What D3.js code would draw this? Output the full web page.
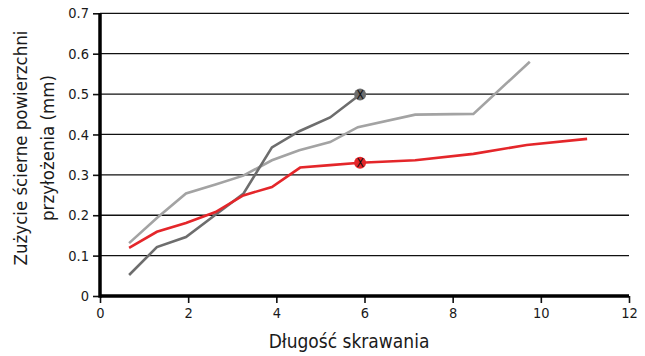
<!DOCTYPE html>
<html>
<head>
<meta charset="utf-8">
<script src="https://cdn.jsdelivr.net/npm/d3@7"></script>
<style>
  html, body { margin: 0; padding: 0; background: #fff; }
  svg { display: block; }
  text { font-family: "DejaVu Sans Condensed", "DejaVu Sans", sans-serif; fill: #1a1a1a; }
</style>
</head>
<body>
<svg id="chart" width="645" height="356"></svg>
<script>
// Cutting length (x) for each measurement series
const darkX  = [0.66, 1.29, 1.95, 2.62, 3.25, 3.9, 4.52, 5.22, 5.9];
const darkY  = [0.052, 0.121, 0.146, 0.201, 0.253, 0.368, 0.408, 0.442, 0.499];

const lightX = [0.66, 1.29, 1.95, 2.62, 3.25, 3.9, 4.52, 5.22, 5.85, 7.15, 8.47, 9.75];
const lightY = [0.131, 0.193, 0.254, 0.276, 0.298, 0.336, 0.361, 0.381, 0.418, 0.449, 0.451, 0.58];

const redX   = [0.66, 1.29, 1.95, 2.62, 3.25, 3.9, 4.54, 5.22, 5.9, 7.15, 8.47, 9.68, 11.05];
const redY   = [0.119, 0.159, 0.181, 0.208, 0.249, 0.27, 0.318, 0.324, 0.33, 0.336, 0.352, 0.374, 0.389];

// Highlighted end-of-life points, marked with an X
const markX = [5.9, 5.9];
const markY = [0.499, 0.33];

const xTicks = [0, 2, 4, 6, 8, 10, 12];
const yTicks = [0, 0.1, 0.2, 0.3, 0.4, 0.5, 0.6, 0.7];

const colors = { dark: "#6d6d6d", light: "#a3a3a3", red: "#e4262a" };

const svg = d3.select("#chart");
const x = d3.scaleLinear().domain([0, 12]).range([100, 629]);
const y = d3.scaleLinear().domain([0, 0.7]).range([296, 13.3]);

// Horizontal grid lines
svg.append("g").selectAll("line").data(yTicks.slice(1)).join("line")
  .attr("x1", x(0)).attr("x2", x(12))
  .attr("y1", d => y(d)).attr("y2", d => y(d))
  .attr("stroke", "#111").attr("stroke-width", 1.3);

// Y axis
const yAxis = svg.append("g").attr("transform", `translate(${x(0)},0)`)
  .call(d3.axisLeft(y).tickValues(yTicks).tickSize(7).tickPadding(4)
    .tickFormat(d => d === 0 ? "0" : d3.format(".1f")(d)));
yAxis.select(".domain").remove();
yAxis.selectAll(".tick line").attr("stroke", "#111").attr("stroke-width", 1.6);
yAxis.selectAll("text").attr("font-size", 14.5).style("font-family", "'DejaVu Sans Condensed', sans-serif");

// X axis
const xAxis = svg.append("g").attr("transform", `translate(0,${y(0)})`)
  .call(d3.axisBottom(x).tickValues(xTicks).tickSize(7).tickPadding(5).tickFormat(d3.format("d")));
xAxis.select(".domain").remove();
xAxis.selectAll(".tick line").attr("stroke", "#111").attr("stroke-width", 1.6);
xAxis.selectAll("text").attr("font-size", 14.5).attr("dy", "0.71em");

// Heavy axis lines
svg.append("line").attr("x1", x(0)).attr("x2", x(12)).attr("y1", y(0)).attr("y2", y(0))
  .attr("stroke", "#000").attr("stroke-width", 3.5);
svg.append("line").attr("x1", x(0)).attr("x2", x(0)).attr("y1", y(0) + 1.75).attr("y2", y(0.7))
  .attr("stroke", "#000").attr("stroke-width", 3.5);

// Series lines
const line = d3.line().x(d => x(d[0])).y(d => y(d[1]));
const series = [
  { xs: lightX, ys: lightY, color: colors.light },
  { xs: darkX,  ys: darkY,  color: colors.dark },
  { xs: redX,   ys: redY,   color: colors.red }
];
svg.append("g").selectAll("path").data(series).join("path")
  .attr("d", s => line(s.xs.map((v, i) => [v, s.ys[i]])))
  .attr("fill", "none").attr("stroke", s => s.color)
  .attr("stroke-width", 2.6).attr("stroke-linejoin", "miter");

// End markers
const markColors = [colors.dark, colors.red];
const marks = svg.append("g").selectAll("g").data(markX).join("g")
  .attr("transform", (d, i) => `translate(${x(d)},${y(markY[i])})`);
marks.append("circle").attr("r", 6).attr("fill", (d, i) => markColors[i]);
marks.append("text").text("X").attr("text-anchor", "middle").attr("dy", "0.36em")
  .attr("font-size", 12).style("fill", "#111");

// Axis titles
svg.append("text").attr("x", 349).attr("y", 348)
  .attr("text-anchor", "middle").attr("font-size", 19).text("Długość skrawania");

const yTitle = svg.append("text")
  .attr("transform", `translate(0,148) rotate(-90)`)
  .attr("text-anchor", "middle").attr("font-size", 18.5);
yTitle.append("tspan").attr("x", 0).attr("y", 27).text("Zużycie ścierne powierzchni");
yTitle.append("tspan").attr("x", 0).attr("y", 54).text("przyłożenia (mm)");
</script>
</body>
</html>
